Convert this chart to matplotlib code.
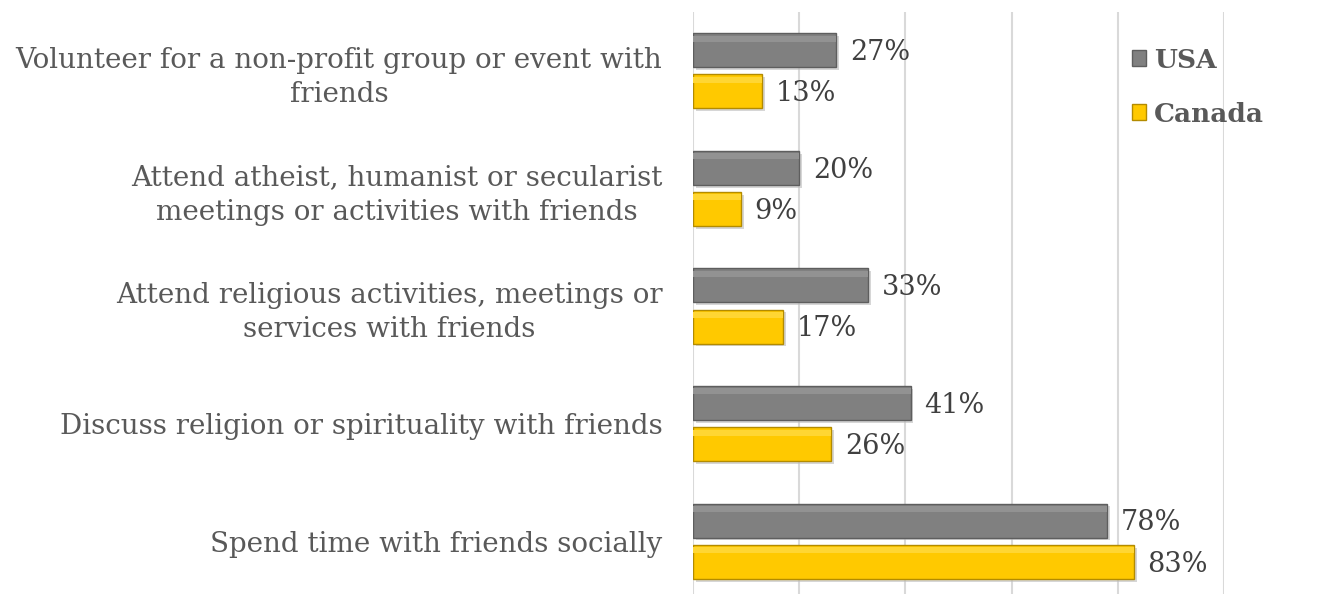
import matplotlib.pyplot as plt
import matplotlib.patheffects as pe
from matplotlib.patches import Patch
import numpy as np

# survey answers, top to bottom
activities = [
    "Volunteer for a non-profit group or event with\nfriends",
    "Attend atheist, humanist or secularist\nmeetings or activities with friends",
    "Attend religious activities, meetings or\nservices with friends",
    "Discuss religion or spirituality with friends",
    "Spend time with friends socially",
]
usa = [27, 20, 33, 41, 78]
canada = [13, 9, 17, 26, 83]

grey = "#808080"
grey_edge = "#5e5e5e"
gold = "#FFC900"
gold_edge = "#B38B00"

plt.rcParams['font.family'] = ['DejaVu Serif']

fig = plt.figure(figsize=(13.21, 5.94), dpi=100)
ax = fig.add_axes([693 / 1321, -6 / 594, 531 / 1321, 588 / 594])

y = np.arange(len(activities))
h = 0.29
off = 0.175

shadow = [pe.SimplePatchShadow(offset=(2, -2), shadow_rgbFace="#bbbbbb", alpha=0.6), pe.Normal()]

b1 = ax.barh(y - off, usa, height=h, color=grey, edgecolor=grey_edge, linewidth=1, zorder=3)
b2 = ax.barh(y + off, canada, height=h, color=gold, edgecolor=gold_edge, linewidth=1, zorder=3)
for b in list(b1) + list(b2):
    b.set_path_effects(shadow)

# lighter band along the top of each bar for a bevelled look
ax.barh(y - off - h * 0.34, usa, height=h * 0.18, color="#929292", linewidth=0, zorder=4)
ax.barh(y + off - h * 0.34, canada, height=h * 0.18, color="#FFD633", linewidth=0, zorder=4)

for i in range(len(activities)):
    ax.text(usa[i] + 2.6, y[i] - off + 0.02, f"{usa[i]}%", va="center", ha="left",
            fontsize=19.5, color="#404040")
    ax.text(canada[i] + 2.6, y[i] + off + 0.02, f"{canada[i]}%", va="center", ha="left",
            fontsize=19.5, color="#404040")

ax.set_xlim(0, 100)
ax.set_ylim(4.5, -0.5)
ax.set_xticks([0, 20, 40, 60, 80, 100])
ax.set_xticklabels([])
ax.tick_params(length=0)
ax.grid(axis="x", color="#d9d9d9", linewidth=1.5, zorder=0)
ax.set_axisbelow(True)
for s in ax.spines.values():
    s.set_visible(False)

ax.set_yticks(y)
ax.set_yticklabels(activities, fontsize=20, color="#595959")
ax.tick_params(axis="y", pad=22)
plt.setp(ax.get_yticklabels(), multialignment="center", linespacing=1.35)

handles = [Patch(facecolor=grey, edgecolor=grey_edge, label="USA"),
           Patch(facecolor=gold, edgecolor=gold_edge, label="Canada")]
leg = fig.legend(handles=handles, loc="upper left", bbox_to_anchor=(1108 / 1321, 1 - 24 / 594),
                 frameon=False, handlelength=0.55, handleheight=0.55, handletextpad=0.3,
                 labelspacing=1.1, prop={"weight": "bold", "size": 19})
for t in leg.get_texts():
    t.set_color("#595959")

fig.savefig("out.png", dpi=100)
